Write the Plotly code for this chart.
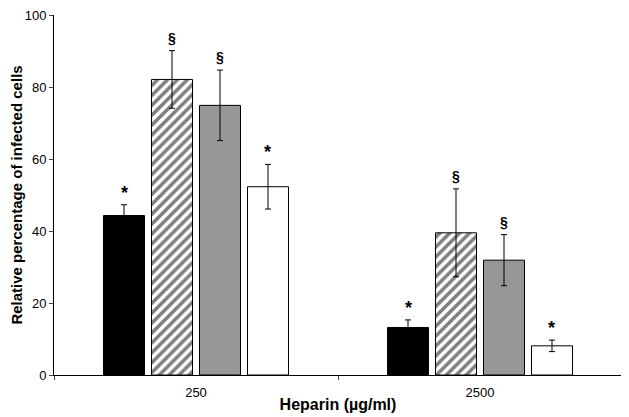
import plotly.graph_objects as go

categories = ["250", "2500"]
series_names = ["Black", "Hatched", "Gray", "White"]
values = [
    [44.3, 13.2],
    [82.1, 39.5],
    [74.9, 31.9],
    [52.3, 8.1],
]
errors = [
    [3.0, 2.1],
    [8.0, 12.2],
    [9.8, 7.1],
    [6.2, 1.6],
]
marks = [
    ["*", "*"],
    ["§", "§"],
    ["§", "§"],
    ["*", "*"],
]

fills = ["black", "white", "#979797", "white"]
patterns = [None, "/", None, None]

fig = go.Figure()
for i, name in enumerate(series_names):
    marker = dict(color=fills[i], line=dict(color="black", width=1))
    if patterns[i]:
        marker["pattern"] = dict(shape=patterns[i], fgcolor="black", bgcolor="white",
                                 size=7, solidity=0.5, fillmode="overlay")
    fig.add_trace(go.Bar(
        x=categories, y=values[i], name=name, marker=marker,
        error_y=dict(type="data", array=errors[i], visible=True,
                     color="black", thickness=1, width=3),
        showlegend=False,
    ))

bargap = 0.324
slot = (1 - bargap) / 4
annotations = []
for i in range(4):
    for j in range(2):
        xpos = j + (i - 1.5) * slot
        annotations.append(dict(
            x=xpos, y=values[i][j] + errors[i][j], xref="x", yref="y",
            text=marks[i][j], showarrow=False, yanchor="bottom",
            yshift=0 if marks[i][j] == "*" else 3,
            font=dict(family="Liberation Sans, Arial", size=18 if marks[i][j] == "*" else 14,
                      color="black", weight="bold"),
        ))

# page body adds an 8px margin; shrink the figure so the plot area lands in place
fig.update_layout(
    width=621, height=409,
    margin=dict(l=46, r=7, t=7, b=42),
    plot_bgcolor="white", paper_bgcolor="white",
    barmode="group", bargap=bargap, bargroupgap=0.146,
    font=dict(family="Liberation Sans, Arial", color="black"),
    annotations=annotations,
    xaxis=dict(
        type="category", tickson="boundaries", ticks="outside", ticklen=4,
        showline=True, linecolor="black", linewidth=1,
        tickfont=dict(size=13), ticklabelstandoff=5,
        title=dict(text="<b>Heparin (µg/ml)</b>", font=dict(size=16), standoff=0),
        range=[-0.5, 1.5], automargin=False,
    ),
    yaxis=dict(
        range=[0, 100], tickvals=[0, 20, 40, 60, 80, 100],
        ticks="outside", ticklen=4, showline=True, linecolor="black", linewidth=1,
        showgrid=False, zeroline=False, tickfont=dict(size=13),
        ticklabeloverflow="allow",
        title=dict(text="<b>Relative percentage of infected cells</b>", font=dict(size=15), standoff=6),
        automargin=False,
    ),
)

fig.write_html("out.html")
